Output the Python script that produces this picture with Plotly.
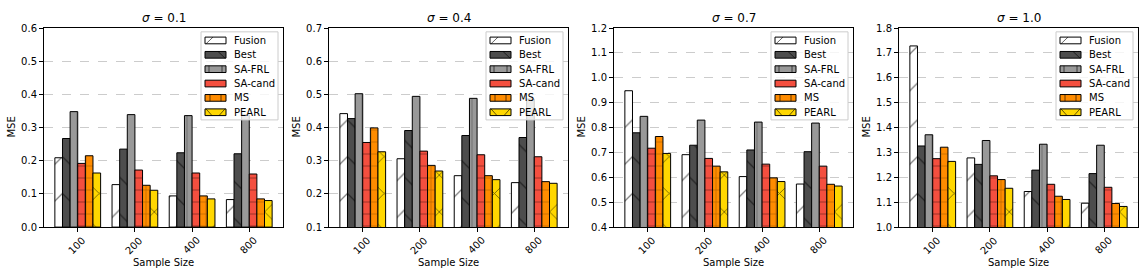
import plotly.graph_objects as go

sizes = ["100", "200", "400", "800"]
sigmas = ["0.1", "0.4", "0.7", "1.0"]
methods = ["Fusion", "Best", "SA-FRL", "SA-cand", "MS", "PEARL"]

# values indexed [sigma][sample size]
fusion = [[0.209, 0.128, 0.094, 0.083],
          [0.442, 0.306, 0.255, 0.234],
          [0.948, 0.691, 0.603, 0.573],
          [1.728, 1.278, 1.143, 1.096]]
best = [[0.267, 0.235, 0.224, 0.221],
        [0.427, 0.391, 0.376, 0.370],
        [0.779, 0.729, 0.710, 0.703],
        [1.326, 1.252, 1.229, 1.215]]
sa_frl = [[0.348, 0.339, 0.336, 0.338],
          [0.502, 0.494, 0.488, 0.486],
          [0.845, 0.830, 0.822, 0.818],
          [1.371, 1.348, 1.333, 1.329]]
sa_cand = [[0.192, 0.172, 0.163, 0.160],
           [0.355, 0.329, 0.318, 0.312],
           [0.717, 0.676, 0.653, 0.645],
           [1.275, 1.206, 1.172, 1.160]]
ms = [[0.215, 0.126, 0.094, 0.085],
      [0.399, 0.286, 0.255, 0.237],
      [0.764, 0.645, 0.598, 0.572],
      [1.321, 1.191, 1.124, 1.095]]
pearl = [[0.163, 0.111, 0.085, 0.080],
         [0.327, 0.269, 0.243, 0.232],
         [0.696, 0.622, 0.583, 0.565],
         [1.264, 1.156, 1.111, 1.083]]
y_ranges = [[0.0, 0.6], [0.1, 0.7], [0.4, 1.2], [1.0, 1.8]]

series = [fusion, best, sa_frl, sa_cand, ms, pearl]
colors = ["#ffffff", "#4d4d4d", "#999999", "#f44f3f", "#ff8c00", "#ffd700"]
shapes = ["/", "\\", "|", "-", "+", "x"]
hatch_sizes = [26, 26, 22, 12, 12, 26]
hatch_solid = [0.05, 0.05, 0.06, 0.11, 0.11, 0.07]
hatch_colors = ["#000000", "#000000", "rgba(0,0,0,0.4)", "rgba(0,0,0,0.55)",
                "rgba(0,0,0,0.55)", "#000000"]

W, H = 1144, 280
x_px = [(44, 283), (329, 568), (614, 853), (899, 1138)]
y_top, y_bot = 23, 231

font = "DejaVu Sans"
fig = go.Figure()
annotations = []
shapes_list = []
layout = {}


def px(x):
    return x / W


def py(y):
    return 1 - y / H


for p in range(4):
    ax = "" if p == 0 else str(p + 1)
    for m in range(6):
        fig.add_trace(go.Bar(
            x=sizes, y=series[m][p], name=methods[m], showlegend=False,
            xaxis="x" + ax, yaxis="y" + ax, hoverinfo="skip",
            marker=dict(color=colors[m],
                        line=dict(color="black", width=1),
                        pattern=dict(shape=shapes[m], size=hatch_sizes[m],
                                     solidity=hatch_solid[m],
                                     fgcolor=hatch_colors[m], fillmode="overlay")),
        ))
    x0, x1 = x_px[p]
    layout["xaxis" + ax] = dict(
        domain=[px(x0), px(x1)], anchor="y" + ax, type="category", range=[-0.59, 3.59],
        showline=True, mirror=True, linecolor="black", linewidth=1,
        ticks="outside", ticklen=4, tickcolor="black", showticklabels=False,
        showgrid=False, zeroline=False,
    )
    layout["yaxis" + ax] = dict(
        domain=[py(y_bot), py(y_top)], anchor="x" + ax,
        range=y_ranges[p], dtick=0.1, tickformat=".1f",
        showline=True, mirror=True, linecolor="black", linewidth=1,
        ticks="outside", ticklen=4, tickcolor="black",
        tickfont=dict(size=10, color="black", family=font),
        showgrid=True, gridcolor="#cccccc", griddash="dash", gridwidth=1,
        zeroline=False,
    )
    # rotated category labels (category axis -> index position)
    for i, s in enumerate(sizes):
        annotations.append(dict(
            text=s, x=i, y=py(250), xref="x" + ax, yref="paper", showarrow=False,
            xanchor="center", yanchor="middle", textangle=-45, xshift=-1,
            font=dict(size=10, color="black", family=font),
        ))
    # titles
    annotations.append(dict(
        text="<i>σ</i> = " + sigmas[p], x=px((x0 + x1) / 2), y=py(13),
        xref="paper", yref="paper", showarrow=False, xanchor="center", yanchor="middle",
        font=dict(size=12, color="black", family=font),
    ))
    annotations.append(dict(
        text="Sample Size", x=px((x0 + x1) / 2), y=py(268),
        xref="paper", yref="paper", showarrow=False, xanchor="center", yanchor="middle",
        font=dict(size=10, color="black", family=font),
    ))
    annotations.append(dict(
        text="MSE", x=px(x0 - 32), y=py((y_top + y_bot) / 2),
        xref="paper", yref="paper", showarrow=False, xanchor="center", yanchor="middle",
        textangle=-90, font=dict(size=10, color="black", family=font),
    ))
    # legend box (matplotlib style, upper right)
    lr = x1 - 5
    ll = lr - 77
    lt, lb = 27, 119
    shapes_list.append(dict(
        type="rect", xref="paper", yref="paper", x0=px(ll), x1=px(lr), y0=py(lb), y1=py(lt),
        fillcolor="rgba(255,255,255,0.8)", line=dict(color="#cccccc", width=1), layer="above",
    ))
    for m in range(6):
        cy = 36 + 15 * m
        sx0, sx1 = ll + 4, ll + 25
        sy0, sy1 = cy - 3.5, cy + 3.5
        shapes_list.append(dict(
            type="rect", xref="paper", yref="paper", x0=px(sx0), x1=px(sx1),
            y0=py(sy1), y1=py(sy0), fillcolor=colors[m],
            line=dict(color="black", width=1), layer="above",
        ))
        hl = []
        if m == 0:
            hl = [(sx0 + 1, sy1, sx0 + 8, sy0)]
        elif m == 1:
            hl = [(sx1 - 8, sy0, sx1 - 1, sy1)]
        elif m == 2:
            hl = [(sx0 + 4, sy0, sx0 + 4, sy1), (sx1 - 4, sy0, sx1 - 4, sy1)]
        elif m == 4:
            hl = [(sx0 + 5, sy0, sx0 + 5, sy1), (sx1 - 5, sy0, sx1 - 5, sy1)]
        elif m == 5:
            hl = [(sx0 + 1, sy0, sx0 + 7, sy1), (sx1 - 1, sy0, sx1 - 7, sy1)]
        for (a, b, c, d) in hl:
            shapes_list.append(dict(
                type="line", xref="paper", yref="paper", x0=px(a), y0=py(b), x1=px(c), y1=py(d),
                line=dict(color="rgba(0,0,0,0.6)", width=1), layer="above",
            ))
        annotations.append(dict(
            text=methods[m], x=px(ll + 31), y=py(cy), xref="paper", yref="paper",
            showarrow=False, xanchor="left", yanchor="middle",
            font=dict(size=10, color="black", family=font),
        ))

fig.update_layout(
    width=W, height=H, margin=dict(l=0, r=0, t=0, b=0),
    paper_bgcolor="white", plot_bgcolor="white", showlegend=False,
    barmode="group", bargap=0.2, bargroupgap=0, hovermode=False,
    annotations=annotations, shapes=shapes_list, **layout,
)
fig.write_html(
    "out.html",
    config={"displayModeBar": False, "staticPlot": True},
    post_script="document.body.style.margin='0';document.body.style.overflow='hidden';",
)
